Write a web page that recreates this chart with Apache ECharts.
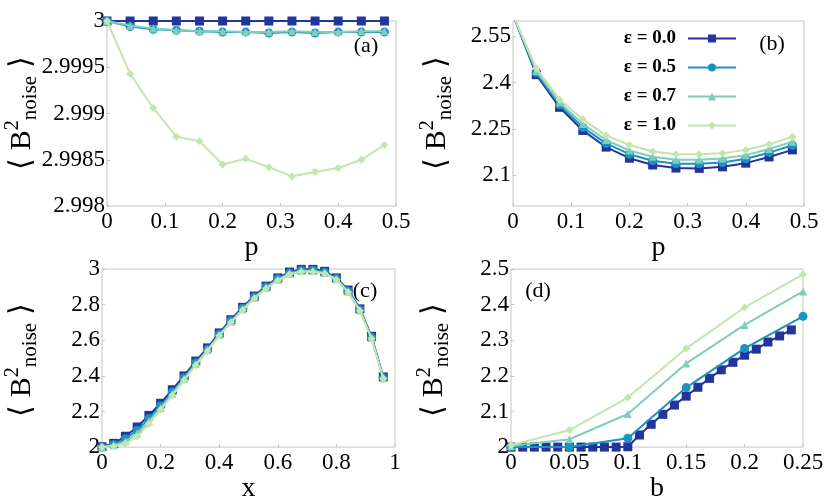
<!DOCTYPE html>
<html><head><meta charset="utf-8">
<script src="https://cdn.jsdelivr.net/npm/echarts@6/dist/echarts.min.js"></script>
<style>html,body{margin:0;padding:0;background:#fff}#c{width:830px;height:504px}</style>
</head><body><div id="c"></div><script>
// ---------- data ----------
const seriesNames = ['ε = 0.0', 'ε = 0.5', 'ε = 0.7', 'ε = 1.0'];

// panel (a)
const pA = [0, 0.04, 0.08, 0.12, 0.16, 0.20, 0.24, 0.28, 0.32, 0.36, 0.40, 0.44, 0.48];
const a_e00 = [3, 3, 3, 3, 3, 3, 3, 3, 3, 3, 3, 3, 3];
const a_e05 = [3, 2.99994, 2.99991, 2.9999, 2.99989, 2.99988, 2.99988, 2.99987, 2.99988, 2.99987, 2.99988, 2.99988, 2.99988];
const a_e07 = [3, 2.99995, 2.99992, 2.9999, 2.99989, 2.99989, 2.99988, 2.99988, 2.99989, 2.99988, 2.99988, 2.99989, 2.99989];
const a_e10 = [3, 2.99943, 2.99906, 2.99875, 2.9987, 2.99845, 2.99851, 2.99842, 2.99832, 2.99837, 2.99841, 2.9985, 2.99866];

// panel (b)
const pB = [0, 0.04, 0.08, 0.12, 0.16, 0.20, 0.24, 0.28, 0.32, 0.36, 0.40, 0.44, 0.48];
const b_e00 = [2.62, 2.426, 2.320, 2.245, 2.191, 2.155, 2.133, 2.123, 2.122, 2.127, 2.139, 2.159, 2.182];
const b_e05 = [2.62, 2.432, 2.328, 2.255, 2.203, 2.168, 2.147, 2.137, 2.137, 2.141, 2.153, 2.173, 2.197];
const b_e07 = [2.62, 2.438, 2.336, 2.266, 2.214, 2.180, 2.160, 2.150, 2.150, 2.154, 2.165, 2.185, 2.208];
const b_e10 = [2.62, 2.447, 2.345, 2.281, 2.229, 2.198, 2.177, 2.168, 2.168, 2.171, 2.182, 2.200, 2.225];
const bTicks = [2.1, 2.25, 2.4, 2.55];

// panel (c)
const xC = [0, 0.04, 0.08, 0.12, 0.16, 0.20, 0.24, 0.28, 0.32, 0.36, 0.40, 0.44, 0.48, 0.52, 0.56, 0.60, 0.64, 0.68, 0.72, 0.76, 0.80, 0.84, 0.88, 0.92, 0.96];
const c_e00 = [2.002, 2.021, 2.061, 2.113, 2.178, 2.246, 2.322, 2.400, 2.483, 2.557, 2.641, 2.715, 2.785, 2.848, 2.904, 2.950, 2.983, 2.998, 2.998, 2.987, 2.950, 2.882, 2.776, 2.622, 2.394];
const c_e05 = [2.001, 2.015, 2.047, 2.095, 2.160, 2.232, 2.309, 2.390, 2.473, 2.550, 2.634, 2.709, 2.779, 2.843, 2.899, 2.945, 2.978, 2.993, 2.993, 2.982, 2.946, 2.877, 2.771, 2.617, 2.389];
const c_e07 = [2.000, 2.010, 2.033, 2.078, 2.145, 2.220, 2.300, 2.383, 2.466, 2.545, 2.629, 2.704, 2.774, 2.839, 2.895, 2.940, 2.974, 2.989, 2.989, 2.978, 2.943, 2.873, 2.768, 2.613, 2.387];
const c_e10 = [2.000, 2.005, 2.020, 2.060, 2.130, 2.210, 2.290, 2.375, 2.460, 2.540, 2.625, 2.700, 2.770, 2.835, 2.890, 2.935, 2.970, 2.985, 2.985, 2.975, 2.940, 2.870, 2.765, 2.610, 2.385];

// panel (d)
const bD0 = [0, 0.01, 0.02, 0.03, 0.04, 0.05, 0.06, 0.07, 0.08, 0.09, 0.10, 0.11, 0.12, 0.13, 0.14, 0.15, 0.16, 0.17, 0.18, 0.19, 0.20, 0.21, 0.22, 0.23, 0.24];
const d_e00 = [2.0, 2.0, 2.0, 2.0, 2.0, 2.0, 2.0, 2.0, 2.0, 2.0, 2.001, 2.034, 2.064, 2.092, 2.118, 2.143, 2.168, 2.193, 2.217, 2.238, 2.258, 2.275, 2.295, 2.312, 2.329];
const bD = [0, 0.05, 0.10, 0.15, 0.20, 0.25];
const d_e05 = [2.0, 2.0, 2.025, 2.167, 2.277, 2.367];
const d_e07 = [2.003, 2.022, 2.093, 2.235, 2.343, 2.437];
const d_e10 = [2.005, 2.048, 2.139, 2.277, 2.392, 2.485];

// ---------- styling ----------
const colors = ['#23349a', '#1d91c0', '#7fcdbb', '#c2e6ae'];
const symbols = ['rect', 'circle', 'triangle', 'diamond'];
const symSizes = [9, 9, 8, 8];
const FONT = "'Liberation Serif', 'Times New Roman', serif";
const BORDER = '#c4c4c4';

const grids = [
  {left: 107, top: 21, width: 289, height: 185},
  {left: 513, top: 21, width: 291, height: 185},
  {left: 102, top: 269, width: 293, height: 179},
  {left: 511, top: 269, width: 292, height: 180}
];

function pairs(xs, ys) { return xs.map((x, i) => [x, ys[i]]); }

function xAxis(gi, min, max, interval, name, gap) {
  return {
    type: 'value', gridIndex: gi, min, max, interval,
    name, nameLocation: 'middle', nameGap: gap,
    nameTextStyle: {fontFamily: FONT, fontSize: 28, color: '#000'},
    axisLine: {show: false},
    axisTick: {show: true, inside: true, length: 3, lineStyle: {color: BORDER}},
    splitLine: {show: false},
    axisLabel: {fontFamily: FONT, fontSize: 23, color: '#000', margin: 4}
  };
}
function yAxis(gi, min, max, interval, extra) {
  return Object.assign({
    type: 'value', gridIndex: gi, min, max, interval,
    axisLine: {show: false},
    axisTick: {show: true, inside: true, length: 3, lineStyle: {color: BORDER}},
    splitLine: {show: false},
    axisLabel: {fontFamily: FONT, fontSize: 23, color: '#000', margin: 2}
  }, extra || {});
}

const panelData = [
  [pA, [a_e00, a_e05, a_e07, a_e10]],
  [pB, [b_e00, b_e05, b_e07, b_e10]],
  [xC, [c_e00, c_e05, c_e07, c_e10]],
  [null, [d_e00, d_e05, d_e07, d_e10]]
];

const series = [];
panelData.forEach((pd, gi) => {
  pd[1].forEach((ys, si) => {
    let xs = pd[0];
    if (gi === 3) xs = si === 0 ? bD0 : bD;
    series.push({
      type: 'line', name: seriesNames[si], xAxisIndex: gi, yAxisIndex: gi,
      data: pairs(xs, ys), symbol: symbols[si], symbolSize: symSizes[si],
      showAllSymbol: true, clip: true,
      itemStyle: {color: colors[si]},
      lineStyle: {color: colors[si], width: 2},
      emphasis: {disabled: true}, z: 2 + si
    });
  });
});

function yTitle(cx, cy) {
  return {
    type: 'text', x: cx, y: cy, rotation: Math.PI / 2, silent: true,
    style: {
      text: '{m|⟨ B}{sup|2}{sub|noise}{m| ⟩}',
      align: 'center', verticalAlign: 'middle', fill: '#000',
      font: '28px ' + FONT,
      rich: {
        m: {fontFamily: FONT, fontSize: 30, lineHeight: 38, verticalAlign: 'middle', fill: '#000'},
        sup: {fontFamily: FONT, fontSize: 20, lineHeight: 20, verticalAlign: 'top', fill: '#000'},
        sub: {fontFamily: FONT, fontSize: 21, lineHeight: 21, verticalAlign: 'bottom', fill: '#000'}
      }
    }
  };
}
function panelLabel(txt, cx, cy) {
  return {
    type: 'text', x: cx, y: cy, silent: true, z: 100,
    style: {text: txt, font: '22px ' + FONT, fill: '#000', align: 'center', verticalAlign: 'middle'}
  };
}

const option = {
  animation: false,
  backgroundColor: '#fff',
  grid: grids.map(g => Object.assign({show: true, borderColor: BORDER, borderWidth: 1, backgroundColor: 'transparent'}, g)),
  xAxis: [
    xAxis(0, 0, 0.5, 0.1, 'p', 3),
    xAxis(1, 0, 0.5, 0.1, 'p', 3),
    xAxis(2, 0, 1, 0.2, 'x', 18),
    xAxis(3, 0, 0.25, 0.05, 'b', 13)
  ],
  yAxis: [
    yAxis(0, 2.998, 3, 0.0005),
    yAxis(1, 2.0, 2.6, 0.05, {
      axisLabel: {fontFamily: FONT, fontSize: 23, color: '#000', margin: 2, customValues: bTicks},
      axisTick: {show: true, inside: true, length: 3, lineStyle: {color: BORDER}, customValues: bTicks}
    }),
    yAxis(2, 2, 3, 0.2),
    yAxis(3, 2, 2.5, 0.1)
  ],
  legend: {
    data: seriesNames, orient: 'vertical', right: 88, top: 24,
    align: 'right', itemWidth: 48, itemHeight: 10, itemGap: 10,
    textStyle: {fontFamily: FONT, fontSize: 19, fontWeight: 'bold', color: '#000', padding: [0, 7, 0, 0]},
    selectedMode: false
  },
  graphic: [
    yTitle(22, 113), yTitle(437, 113), yTitle(22, 360), yTitle(434, 360),
    panelLabel('(a)', 366, 46), panelLabel('(b)', 772, 44),
    panelLabel('(c)', 365, 291), panelLabel('(d)', 538, 291)
  ],
  series
};

const chart = echarts.init(document.getElementById('c'), null, {renderer: 'canvas'});
chart.setOption(option);
</script></body></html>
